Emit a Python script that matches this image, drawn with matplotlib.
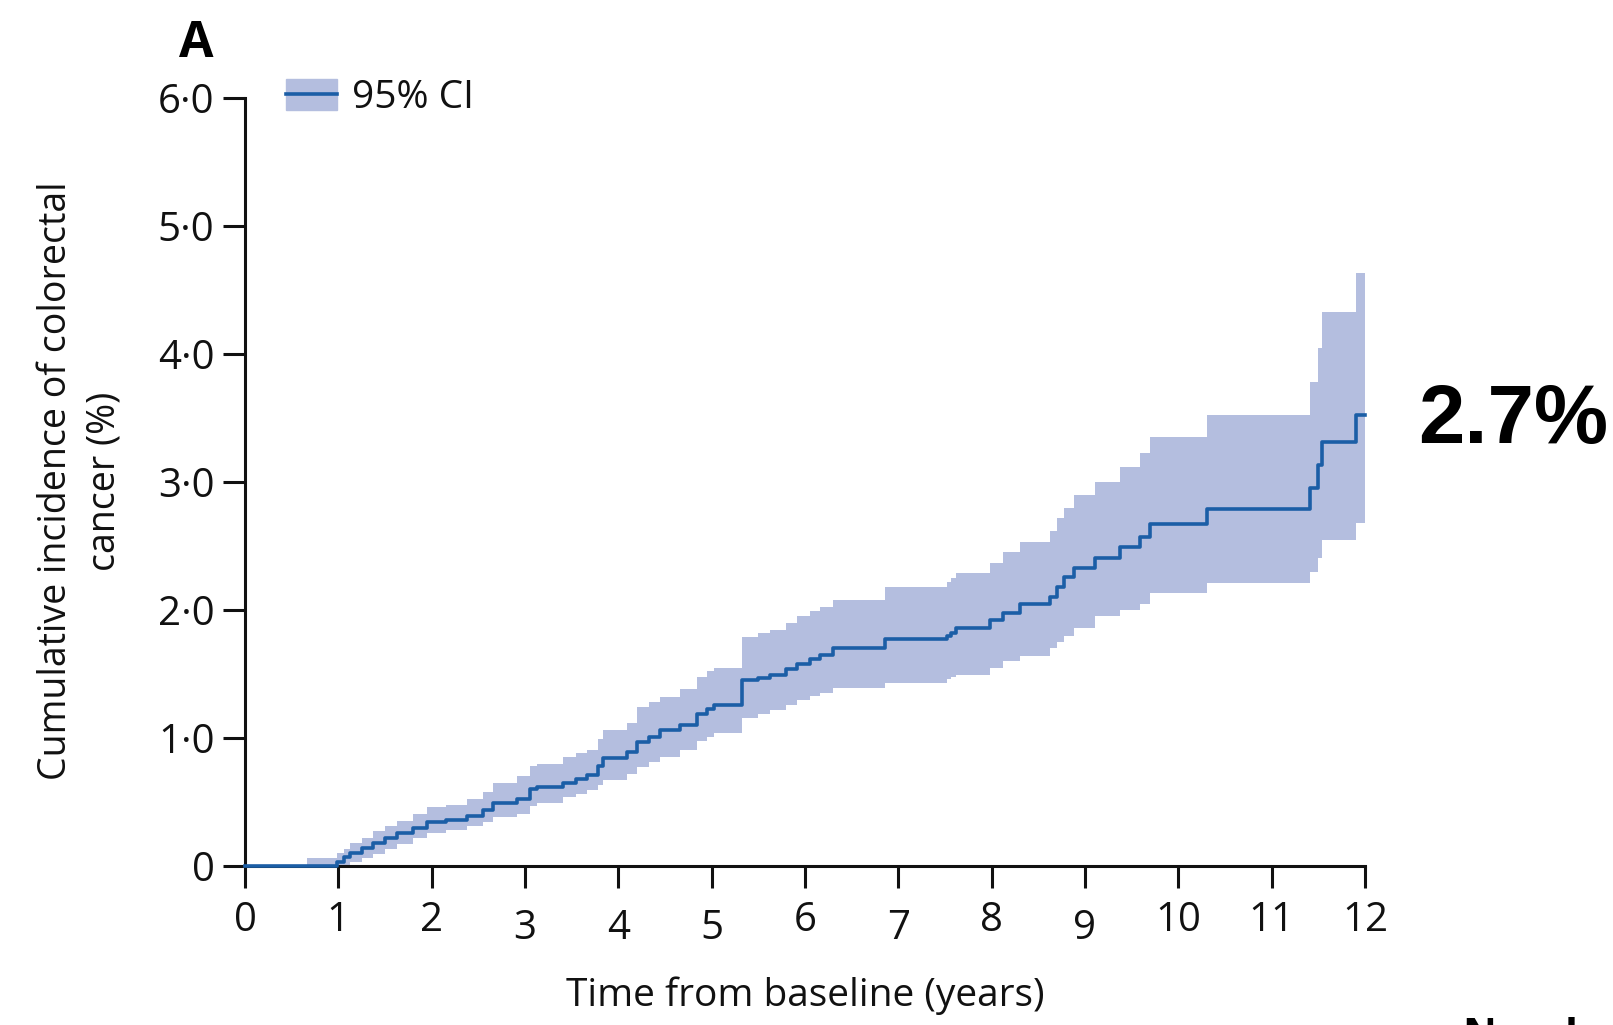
import numpy as np
import matplotlib.pyplot as plt
from matplotlib.patches import Patch
from matplotlib.lines import Line2D

plt.rcParams['font.family'] = ['Open Sans', 'DejaVu Sans']

# step points of the cumulative incidence curve (years, %)
t = [0.00, 0.66, 0.99, 1.06, 1.125, 1.25, 1.37, 1.50, 1.63, 1.80, 1.95, 2.15, 2.38,
     2.55, 2.66, 2.91, 3.05, 3.13, 3.41, 3.55, 3.66, 3.78, 3.84, 4.09, 4.20, 4.33,
     4.45, 4.66, 4.84, 4.95, 5.02, 5.33, 5.50, 5.63, 5.80, 5.91, 6.05, 6.16, 6.30,
     6.86, 7.52, 7.56, 7.62, 7.98, 8.12, 8.30, 8.63, 8.70, 8.78, 8.88, 9.11, 9.38,
     9.59, 9.70, 10.31, 11.41, 11.50, 11.54, 11.90, 12.00]
est = [0, 0, 0.03, 0.07, 0.10, 0.14, 0.18, 0.22, 0.26, 0.30, 0.34, 0.36, 0.39,
       0.44, 0.49, 0.52, 0.60, 0.62, 0.65, 0.68, 0.71, 0.78, 0.84, 0.89, 0.97, 1.01,
       1.06, 1.10, 1.19, 1.23, 1.26, 1.45, 1.47, 1.49, 1.54, 1.58, 1.62, 1.65, 1.70,
       1.77, 1.80, 1.82, 1.86, 1.92, 1.98, 2.05, 2.10, 2.18, 2.26, 2.33, 2.41, 2.49,
       2.57, 2.67, 2.79, 2.95, 3.13, 3.31, 3.52, 3.52]
lower = [0, 0, 0.00, 0.01, 0.03, 0.06, 0.09, 0.13, 0.17, 0.22, 0.26, 0.28, 0.31,
         0.34, 0.38, 0.41, 0.47, 0.49, 0.54, 0.56, 0.59, 0.63, 0.67, 0.72, 0.77, 0.81,
         0.85, 0.91, 0.98, 1.01, 1.04, 1.16, 1.19, 1.22, 1.26, 1.30, 1.33, 1.35, 1.39,
         1.43, 1.46, 1.48, 1.49, 1.55, 1.60, 1.64, 1.70, 1.75, 1.80, 1.86, 1.95, 2.00,
         2.05, 2.13, 2.21, 2.30, 2.41, 2.55, 2.68, 2.68]
upper = [0, 0.06, 0.10, 0.13, 0.18, 0.22, 0.27, 0.31, 0.35, 0.41, 0.46, 0.48, 0.52,
         0.58, 0.65, 0.70, 0.78, 0.80, 0.85, 0.88, 0.91, 0.99, 1.06, 1.12, 1.24, 1.28,
         1.32, 1.38, 1.48, 1.52, 1.55, 1.79, 1.82, 1.84, 1.90, 1.95, 1.99, 2.02, 2.08,
         2.18, 2.22, 2.25, 2.29, 2.37, 2.45, 2.53, 2.62, 2.72, 2.80, 2.90, 3.00, 3.12,
         3.23, 3.35, 3.52, 3.78, 4.05, 4.33, 4.63, 4.63]

xticks = list(range(0, 13))
yticks = [0, 1, 2, 3, 4, 5, 6]
ylabels = ['0', '1·0', '2·0', '3·0', '4·0', '5·0', '6·0']

line_col = '#1b5ea6'
fill_col = '#b4bedf'

fig = plt.figure(figsize=(16.13, 10.25), dpi=100, facecolor='white')
ax = fig.add_axes([245 / 1613, 1 - 866 / 1025, 1120 / 1613, 768 / 1025])

ci = ax.fill_between(t, lower, upper, step='post', color=fill_col, linewidth=0)
ln, = ax.step(t, est, where='post', color=line_col, lw=2.6, zorder=3, clip_on=False)

ax.set_xlim(0, 12)
ax.set_ylim(0, 6)
for s in ['top', 'right']:
    ax.spines[s].set_visible(False)
for s in ['left', 'bottom']:
    ax.spines[s].set_linewidth(2.2)
    ax.spines[s].set_color('#111111')

ax.set_xticks(xticks)
ax.set_xticklabels([str(x) for x in xticks])
ax.set_yticks(yticks)
ax.set_yticklabels(ylabels)
ax.tick_params(axis='both', direction='out', length=16, width=2.2, labelsize=29, colors='#111111')
ax.tick_params(axis='x', pad=9)
ax.tick_params(axis='y', pad=6)

# old-style figures in the original font: 3 4 5 7 9 sit lower
for lbl in ax.get_xticklabels():
    if lbl.get_text() in ['3', '4', '5', '7', '9']:
        lbl.set_y(-0.01)

fig.text(80 / 1613, 1 - 481 / 1025, 'Cumulative incidence of colorectal\ncancer (%)',
         rotation=90, ha='center', va='center', multialignment='center', fontsize=27,
         linespacing=1.35, color='#111111')
fig.text(805 / 1613, 1 - 996 / 1025, 'Time from baseline (years)', ha='center', va='center',
         fontsize=28, color='#111111')

fig.text(196 / 1613, 1 - 57 / 1025, 'A', ha='center', va='baseline', fontsize=36,
         fontweight='bold')

ax.legend(handles=[(Patch(color=fill_col), Line2D([], [], color=line_col, lw=2.6))],
          labels=['95% CI'], loc='upper left', bbox_to_anchor=(286 / 1613, 1 - 79 / 1025),
          bbox_transform=fig.transFigure, frameon=False, fontsize=28, borderpad=0,
          borderaxespad=0, handlelength=1.3, handleheight=0.85, handletextpad=0.4,
          labelcolor='#111111')

fig.text(1418 / 1613, 1 - 443 / 1025, '2.7%', ha='left', va='baseline', fontsize=60,
         fontweight='bold', family='Liberation Sans')

fig.text(1463 / 1613, 1 - 1017 / 1025, 'Number at risk', ha='left', va='top', fontsize=30,
         fontweight='bold')

fig.savefig('out.png', dpi=100, facecolor='white')
